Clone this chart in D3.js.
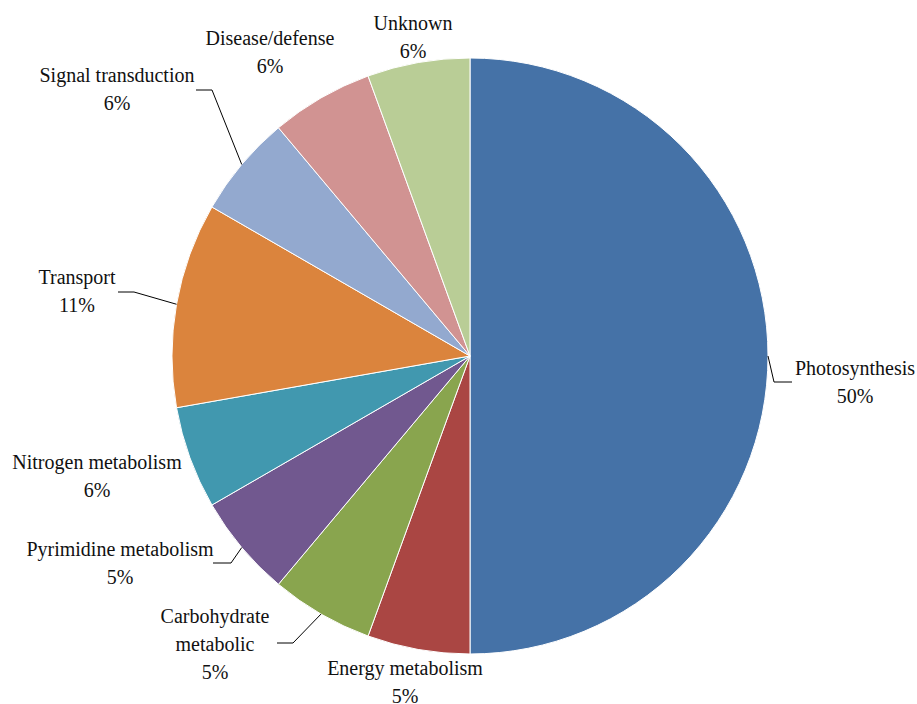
<!DOCTYPE html>
<html>
<head>
<meta charset="utf-8">
<script src="https://cdn.jsdelivr.net/npm/d3@7"></script>
<style>
  body { margin: 0; background: #fff; }
</style>
</head>
<body>
<script>
// data
var categories = ["Photosynthesis", "Energy metabolism", "Carbohydrate metabolic", "Pyrimidine metabolism",
                  "Nitrogen metabolism", "Transport", "Signal transduction", "Disease/defense", "Unknown"];
var values = [9, 1, 1, 1, 1, 2, 1, 1, 1];
var percentLabels = ["50%", "5%", "5%", "5%", "6%", "11%", "6%", "6%", "6%"];
var colors = ["#4572A7", "#AA4643", "#89A54E", "#71588F", "#4198AF", "#DB843D", "#93A9CF", "#D19392", "#B9CD96"];

// label layout: text lines, centre x, first baseline y, optional leader elbow + end
var labelLayout = [
  {lines: ["Photosynthesis"], x: 855, y: 375, elbow: [774, 382], end: [792, 382]},
  {lines: ["Energy metabolism"], x: 405, y: 675},
  {lines: ["Carbohydrate", "metabolic"], x: 215, y: 623, elbow: [293, 643], end: [277, 643]},
  {lines: ["Pyrimidine metabolism"], x: 120, y: 556, elbow: [231, 563], end: [213, 563]},
  {lines: ["Nitrogen metabolism"], x: 97, y: 469},
  {lines: ["Transport"], x: 77, y: 284, elbow: [134, 292], end: [118, 292]},
  {lines: ["Signal transduction"], x: 117, y: 82, elbow: [212, 90], end: [196, 90]},
  {lines: ["Disease/defense"], x: 270, y: 45},
  {lines: ["Unknown"], x: 413, y: 30}
];

var width = 917, height = 704;
var center = [470, 356];
var radius = 298;
var lineHeight = 28;

var svg = d3.select("body").append("svg")
    .attr("width", width)
    .attr("height", height);

var pie = d3.pie().sort(null).value(function(d) { return d; });
var arcs = pie(values);
var arc = d3.arc().innerRadius(0).outerRadius(radius);
var edge = d3.arc().innerRadius(radius).outerRadius(radius);

var g = svg.append("g").attr("transform", "translate(" + center[0] + "," + center[1] + ")");

g.selectAll("path.slice")
    .data(arcs)
    .enter()
    .append("path")
    .attr("class", "slice")
    .attr("d", arc)
    .attr("fill", function(d, i) { return colors[i]; })
    .attr("stroke", "#fff")
    .attr("stroke-width", 1);

// leader lines
arcs.forEach(function(a, i) {
    var l = labelLayout[i];
    if (!l.elbow) return;
    var s = edge.centroid(a);
    var pts = [[s[0] + center[0], s[1] + center[1]], l.elbow, l.end];
    svg.append("path")
        .attr("d", d3.line()(pts))
        .attr("fill", "none")
        .attr("stroke", "#000")
        .attr("stroke-width", 1);
});

// labels
labelLayout.forEach(function(l, i) {
    var t = svg.append("text")
        .attr("text-anchor", "middle")
        .style("font-family", "'Liberation Serif', 'Times New Roman', serif")
        .style("font-size", "20px")
        .attr("fill", "#111");
    l.lines.concat([percentLabels[i]]).forEach(function(s, k) {
        t.append("tspan")
            .attr("x", l.x)
            .attr("y", l.y + k * lineHeight)
            .text(s);
    });
});
</script>
</body>
</html>
